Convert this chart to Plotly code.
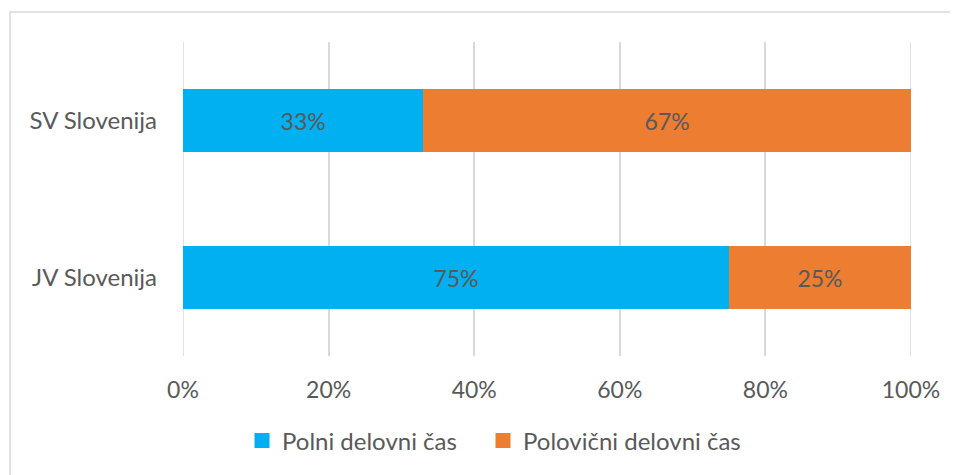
import plotly.graph_objects as go

categories = ["JV Slovenija", "SV Slovenija"]
polni = [75, 33]
polovicni = [25, 67]
series_names = ["Polni delovni čas", "Polovični delovni čas"]
colors = ["#00B0F0", "#ED7D31"]
tick_vals = [0, 20, 40, 60, 80, 100]
tick_text = ["0%", "20%", "40%", "60%", "80%", "100%"]

FONT = "Lato, Carlito, Calibri, sans-serif"
GRAY = "#595959"
FS = 23

fig = go.Figure()
for vals, name, col in [(polni, series_names[0], colors[0]), (polovicni, series_names[1], colors[1])]:
    fig.add_trace(go.Bar(
        y=categories, x=vals, orientation="h", name=name, showlegend=False,
        marker=dict(color=col, line=dict(width=0)),
        text=[f"{v}%" for v in vals], textposition="inside", insidetextanchor="middle",
        textfont=dict(color=GRAY, size=FS, family=FONT), width=0.4,
    ))
# legend entries with square swatches, each in its own legend for exact placement
legend_ids = ["legend", "legend2"]
for name, col, lid in zip(series_names, colors, legend_ids):
    fig.add_trace(go.Scatter(
        x=[None], y=[None], mode="markers", name=name, legend=lid,
        marker=dict(symbol="square", size=15, color=col),
    ))

leg_common = dict(orientation="h", xanchor="left", y=-0.27, yanchor="middle",
                  font=dict(size=24, color=GRAY, family=FONT), bgcolor="rgba(0,0,0,0)")

# page body has an 8px margin; compensate so the plot sits where the reference is
fig.update_layout(
    barmode="stack",
    width=950, height=467,
    margin=dict(l=175, r=47, t=34, b=112),
    paper_bgcolor="white", plot_bgcolor="white",
    font=dict(family=FONT, color=GRAY, size=FS),
    showlegend=True,
    legend=dict(x=(254 - 12 - 183) / 728, **leg_common),
    legend2=dict(x=(495 - 12 - 183) / 728, **leg_common),
    uniformtext=dict(mode="show", minsize=10),
    xaxis=dict(range=[0, 100], tickvals=tick_vals, ticktext=tick_text,
               showgrid=True, gridcolor="#D9D9D9", gridwidth=1.5, zeroline=False,
               showline=False, ticks="", ticklabelstandoff=18,
               tickfont=dict(size=FS, color=GRAY, family=FONT), fixedrange=True),
    yaxis=dict(range=[-0.5, 1.5], showgrid=False, zeroline=False, showline=False,
               ticks="", ticklabelstandoff=25,
               tickfont=dict(size=24, color=GRAY, family=FONT)),
    shapes=[
        dict(type="rect", xref="paper", yref="paper",
             x0=(10 - 183) / 728, x1=(965 - 183) / 728,
             y0=(355 - 485) / 313, y1=(355 - 12) / 313,
             line=dict(color="#D9D9D9", width=1.5), fillcolor="rgba(0,0,0,0)",
             layer="below"),
        dict(type="line", xref="x", yref="paper", x0=tick_vals[0], x1=tick_vals[0], y0=0, y1=1,
             line=dict(color="#D9D9D9", width=1.5), layer="below"),
        dict(type="line", xref="x", yref="paper", x0=tick_vals[-1], x1=tick_vals[-1], y0=0, y1=1,
             line=dict(color="#D9D9D9", width=1.5), layer="below"),
    ],
)

fig.write_html("out.html")
